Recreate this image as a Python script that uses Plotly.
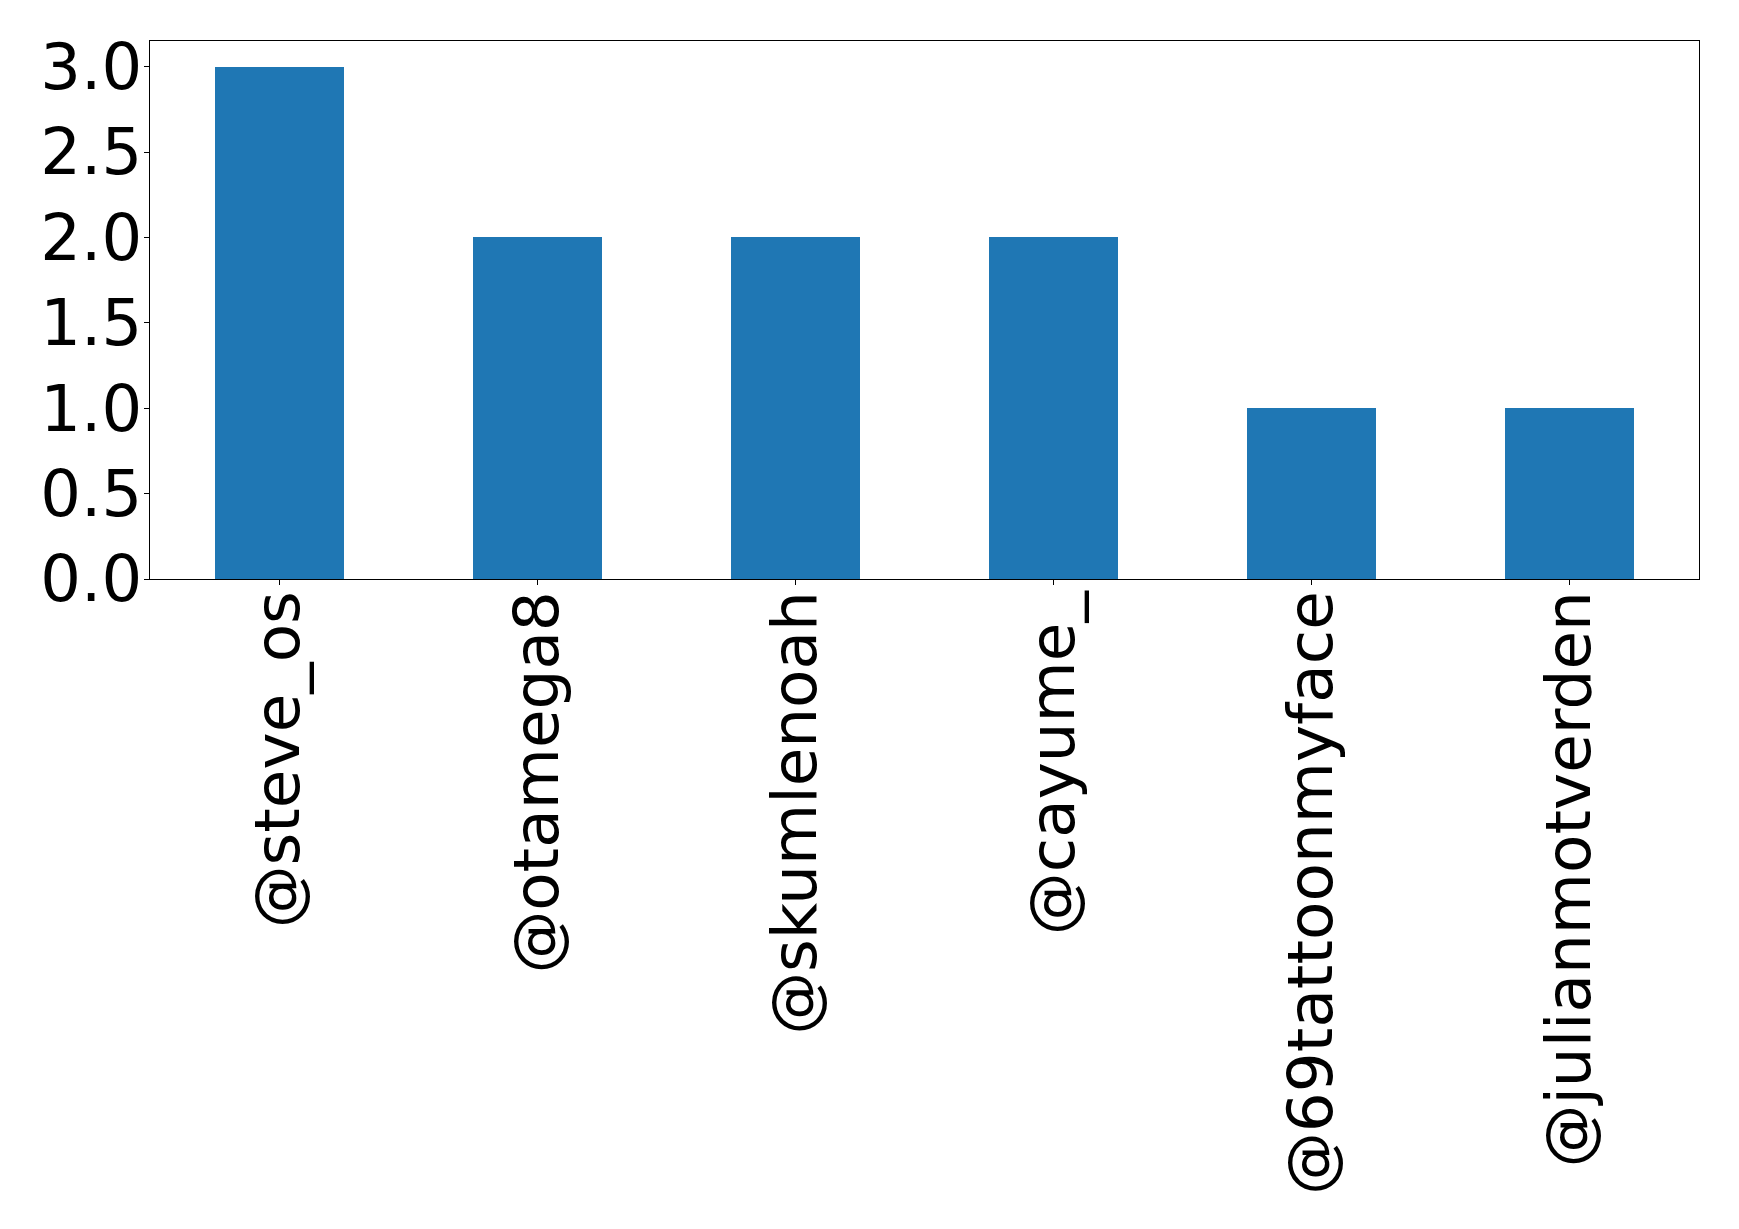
import plotly.graph_objects as go

categories = ["@steve_os", "@otamega8", "@skumlenoah", "@cayume_", "@69tattoonmyface", "@julianmotverden"]
values = [3, 2, 2, 2, 1, 1]
y_ticks = [0.0, 0.5, 1.0, 1.5, 2.0, 2.5, 3.0]
y_tick_labels = ["0.0", "0.5", "1.0", "1.5", "2.0", "2.5", "3.0"]

fig = go.Figure(go.Bar(
    x=list(range(len(categories))), y=values,
    width=0.5, marker=dict(color="#1f77b4", line=dict(width=0)),
))

fig.update_layout(
    width=1731, height=1221,
    margin=dict(l=142, r=40, t=33, b=650, autoexpand=False),
    paper_bgcolor="white", plot_bgcolor="white",
    font=dict(family="DejaVu Sans", size=64, color="black"),
    showlegend=False,
    bargap=0,
)
fig.update_xaxes(
    range=[-0.5, 5.5],
    tickmode="array", tickvals=list(range(len(categories))), ticktext=categories,
    tickangle=-90, tickfont=dict(size=62.8),
    ticks="outside", ticklen=5, tickwidth=1.1, tickcolor="black",
    showline=True, linecolor="black", linewidth=1.1, mirror=True,
    showgrid=False, zeroline=False,
    ticklabelstandoff=-19,
)
fig.update_yaxes(
    range=[0, 3.15],
    tickmode="array", tickvals=y_ticks, ticktext=y_tick_labels,
    ticks="outside", ticklen=5, tickwidth=1.1, tickcolor="black",
    showline=True, linecolor="black", linewidth=1.1, mirror=True,
    showgrid=False, zeroline=False,
    ticklabelstandoff=-11,
)

fig.write_html("out.html")
